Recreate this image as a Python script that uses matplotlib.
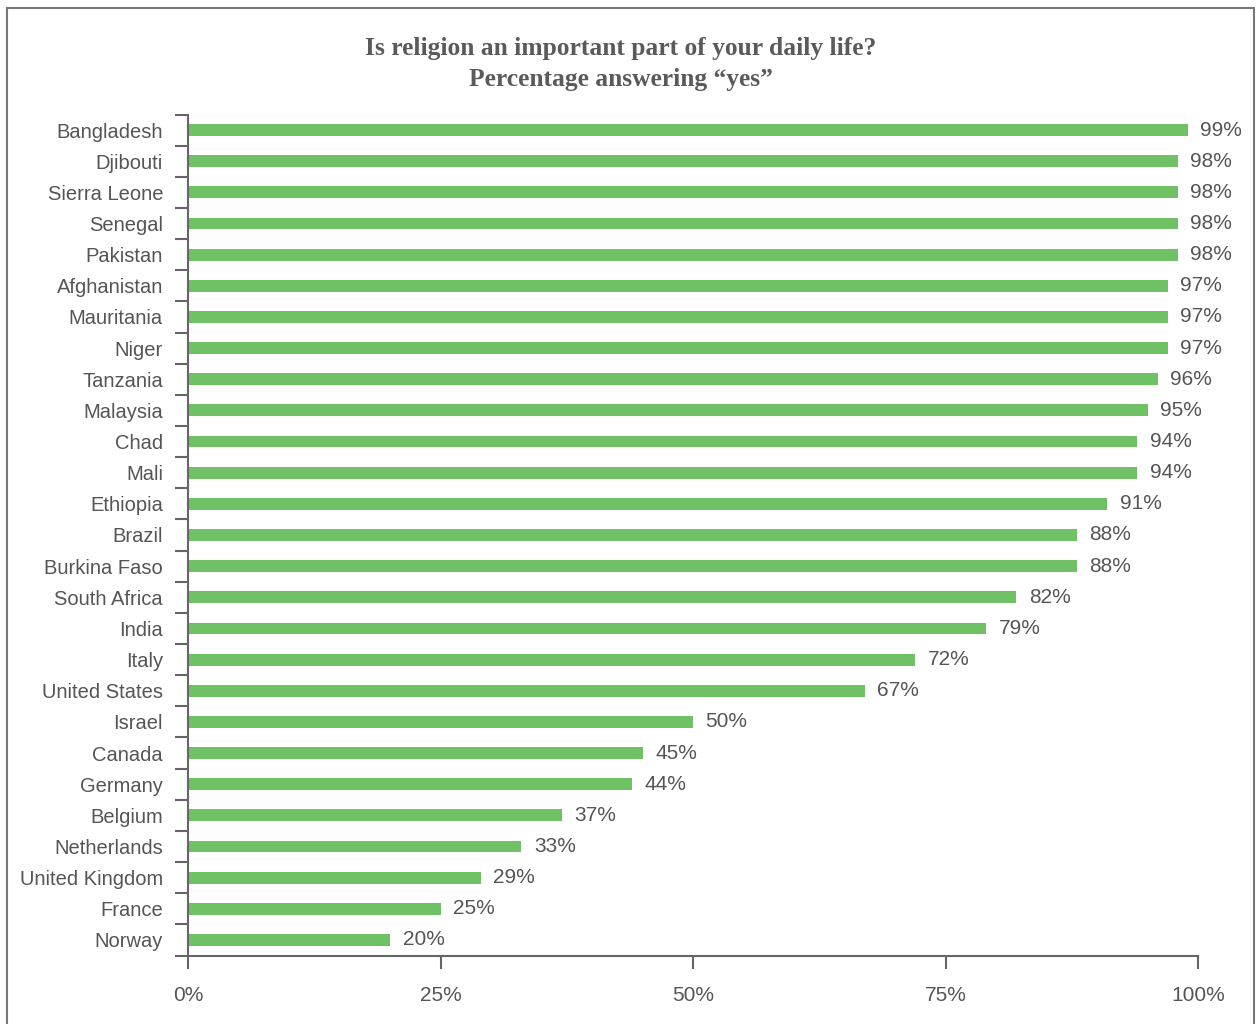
import matplotlib
matplotlib.use("Agg")
import matplotlib.pyplot as plt
from matplotlib.patches import Rectangle
import numpy as np

countries = ["Bangladesh", "Djibouti", "Sierra Leone", "Senegal", "Pakistan",
             "Afghanistan", "Mauritania", "Niger", "Tanzania", "Malaysia", "Chad",
             "Mali", "Ethiopia", "Brazil", "Burkina Faso", "South Africa", "India",
             "Italy", "United States", "Israel", "Canada", "Germany", "Belgium",
             "Netherlands", "United Kingdom", "France", "Norway"]
values = [99, 98, 98, 98, 98, 97, 97, 97, 96, 95, 94, 94, 91, 88, 88, 82, 79,
          72, 67, 50, 45, 44, 37, 33, 29, 25, 20]
xticks = [0, 25, 50, 75, 100]
xticklabels = ["0%", "25%", "50%", "75%", "100%"]
title = "Is religion an important part of your daily life?\nPercentage answering \u201cyes\u201d"

TXT = "#555555"
SP = "#666666"
GREEN = "#70C166"

plt.rcParams['font.family'] = ['Liberation Sans', 'DejaVu Sans']

fig = plt.figure(figsize=(12.57, 10.24), dpi=100)
ax = fig.add_axes([188/1257, (1024-955.5)/1024, (1198-188)/1257, (955.5-114.5)/1024])

y = np.arange(len(countries))
ax.barh(y, values, height=0.38, color=GREEN, zorder=2)
for yi, v in zip(y, values):
    ax.annotate(f"{v}%", (v, yi), xytext=(9, 0), textcoords="offset points",
                va="center", ha="left", fontsize=15, color=TXT)

ax.set_xlim(0, 100)
ax.set_ylim(len(countries) - 0.5, -0.5)
ax.set_yticks(y)
ax.set_yticklabels(countries, fontsize=14.5, color=TXT)
ax.tick_params(axis="y", which="major", length=0, pad=18)
ax.set_yticks(np.arange(-0.5, len(countries), 1.0), minor=True)
ax.tick_params(axis="y", which="minor", length=9.5, width=1.5, color=SP, direction="out")
ax.set_xticks(xticks)
ax.set_xticklabels(xticklabels, fontsize=15, color=TXT)
ax.tick_params(axis="x", length=9, width=1.5, color=SP, pad=13)

for s in ["top", "right"]:
    ax.spines[s].set_visible(False)
for s in ["left", "bottom"]:
    ax.spines[s].set_color(SP)
    ax.spines[s].set_linewidth(1.5)

fig.text(621/1257, 1 - 64/1024, title, ha="center", va="center",
         fontsize=18.4, fontweight="bold", color="#5a5a5a",
         family=["Liberation Serif", "DejaVu Serif"], linespacing=1.45)

fig.patches.append(Rectangle((7/1257, -0.02), (1254-7)/1257, 1.02 - 8/1024,
                             transform=fig.transFigure, fill=False,
                             edgecolor="#777777", linewidth=1.5))

fig.savefig("out.png", dpi=100, facecolor="white")
